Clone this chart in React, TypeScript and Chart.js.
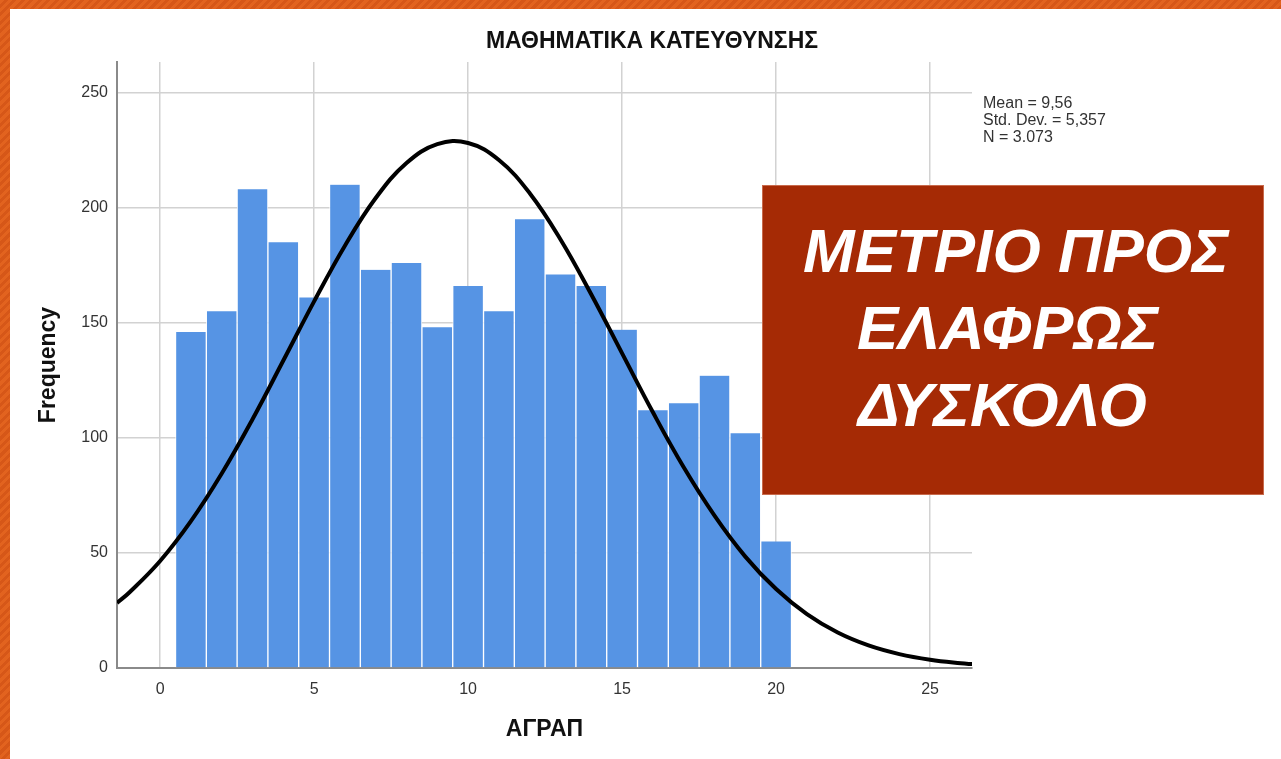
import React, { useEffect, useRef } from "react";
import { Chart, registerables } from "chart.js";

Chart.register(...registerables);

// ---- data ----
const binCenters = [1, 2, 3, 4, 5, 6, 7, 8, 9, 10, 11, 12, 13, 14, 15, 16, 17, 18, 19, 20];
const frequencies = [146, 155, 208, 185, 161, 210, 173, 176, 148, 166, 155, 195, 171, 166, 147, 112, 115, 127, 102, 55];

const curveX = [-1.4, -1, 0, 1, 2, 3, 4, 5, 6, 7, 8, 9, 10, 11, 12, 13, 14, 15, 16, 17, 18, 19, 20, 21, 22, 23, 24, 25, 26, 26.4];
const curveY = [28.3, 32.8, 46.5, 63.8, 84.5, 108.1, 133.6, 159.3, 183.5, 204.2, 219.4, 227.6, 228.1, 220.7, 206.3, 186.2, 162.3, 136.7, 111.1, 87.2, 66.2, 48.4, 34.3, 23.4, 15.4, 9.8, 6.05, 3.6, 2.06, 1.65];

const xTicks = [0, 5, 10, 15, 20, 25];
const yTicks = [0, 50, 100, 150, 200, 250];

const chartTitle = "ΜΑΘΗΜΑΤΙΚΑ ΚΑΤΕΥΘΥΝΣΗΣ";
const xTitle = "ΑΓΡΑΠ";
const yTitle = "Frequency";
const statsLines = ["Mean = 9,56", "Std. Dev. = 5,357", "N = 3.073"];
const overlayLines = ["ΜΕΤΡΙΟ ΠΡΟΣ", "ΕΛΑΦΡΩΣ", "ΔΥΣΚΟΛΟ"];

const FONT = "'Liberation Sans', Arial, sans-serif";

export default function App() {
  const canvasRef = useRef<HTMLCanvasElement | null>(null);

  useEffect(() => {
    const canvas = canvasRef.current;
    if (!canvas) return;

    const textPlugin = {
      id: "texts",
      afterDraw(chart: any) {
        const ctx = chart.ctx;
        const area = chart.chartArea;
        ctx.save();
        ctx.fillStyle = "#111";
        ctx.font = `bold 23px ${FONT}`;
        ctx.textAlign = "center";
        ctx.textBaseline = "middle";
        ctx.fillText(chartTitle, 652, 42);
        ctx.fillText(xTitle, (area.left + area.right) / 2, 730);
        ctx.save();
        ctx.translate(49, (area.top + area.bottom) / 2);
        ctx.rotate(-Math.PI / 2);
        ctx.fillText(yTitle, 0, 0);
        ctx.restore();
        ctx.fillStyle = "#333";
        ctx.font = `16px ${FONT}`;
        ctx.textAlign = "left";
        ctx.textBaseline = "alphabetic";
        statsLines.forEach((t, i) => ctx.fillText(t, 983, 108 + i * 17));
        ctx.restore();
      },
    };

    const chart = new Chart(canvas, {
      type: "bar",
      data: {
        datasets: [
          {
            type: "line",
            data: curveX.map((x, i) => ({ x, y: curveY[i] })),
            borderColor: "#000",
            borderWidth: 4,
            pointRadius: 0,
            tension: 0.4,
            fill: false,
            order: 0,
          } as any,
          {
            type: "bar",
            data: binCenters.map((x, i) => ({ x, y: frequencies[i] })),
            backgroundColor: "#5694E4",
            borderColor: "rgba(255,255,255,0.8)",
            borderWidth: { left: 1, right: 1, top: 0, bottom: 0 },
            borderSkipped: false,
            barPercentage: 1,
            categoryPercentage: 1,
            order: 1,
          } as any,
        ],
      },
      options: {
        responsive: false,
        animation: false,
        events: [],
        layout: { padding: { left: 0, right: 309, top: 62, bottom: 0 } },
        plugins: { legend: { display: false }, tooltip: { enabled: false }, title: { display: false } },
        scales: {
          x: {
            type: "linear",
            min: -1.4,
            max: 26.36,
            offset: false,
            afterBuildTicks: (s: any) => {
              s.ticks = xTicks.map((v) => ({ value: v }));
            },
            afterFit: (s: any) => {
              s.height = 91;
            },
            grid: { color: "#d2d2d2", lineWidth: 1.5, drawTicks: false, offset: false },
            border: { display: true, color: "#8a8a8a", width: 2 },
            ticks: { color: "#333", font: { family: FONT, size: 16 }, padding: 12, maxRotation: 0 },
          },
          y: {
            type: "linear",
            min: 0,
            max: 263.3,
            afterBuildTicks: (s: any) => {
              s.ticks = yTicks.map((v) => ({ value: v }));
            },
            afterFit: (s: any) => {
              s.width = 117;
            },
            grid: { color: "#d2d2d2", lineWidth: 1.5, drawTicks: false },
            border: { display: true, color: "#8a8a8a", width: 2 },
            ticks: { color: "#333", font: { family: FONT, size: 16 }, padding: 9 },
          },
        },
      },
      plugins: [textPlugin],
    });

    return () => chart.destroy();
  }, []);

  const stripe =
    "repeating-linear-gradient(135deg, #e2631f 0px, #e2631f 3px, #d65718 3px, #d65718 6px)";

  return (
    <div style={{ position: "fixed", left: 0, top: 0, width: 1281, height: 759, background: "#fff", overflow: "hidden" }}>
      <canvas ref={canvasRef} width={1281} height={759} style={{ position: "absolute", left: 0, top: 0, width: 1281, height: 759 }} />
      <div style={{ position: "absolute", left: 0, top: 0, width: 1281, height: 9, background: stripe }} />
      <div style={{ position: "absolute", left: 0, top: 0, width: 10, height: 759, background: stripe }} />
      <div
        style={{
          position: "absolute",
          left: 763,
          top: 186,
          width: 500,
          height: 308,
          background: "#A52A05",
          boxShadow: "0 0 0 1px #c86a4c",
          color: "#fff",
          fontFamily: FONT,
          fontWeight: "bold",
          fontStyle: "italic",
          fontSize: 62,
        }}
      >
        {overlayLines.map((t, i) => (
          <div
            key={i}
            style={{
              position: "absolute",
              left: [40, 94, 95][i],
              top: 30 + i * 77,
              lineHeight: "70px",
              whiteSpace: "nowrap",
            }}
          >
            {t}
          </div>
        ))}
      </div>
    </div>
  );
}
